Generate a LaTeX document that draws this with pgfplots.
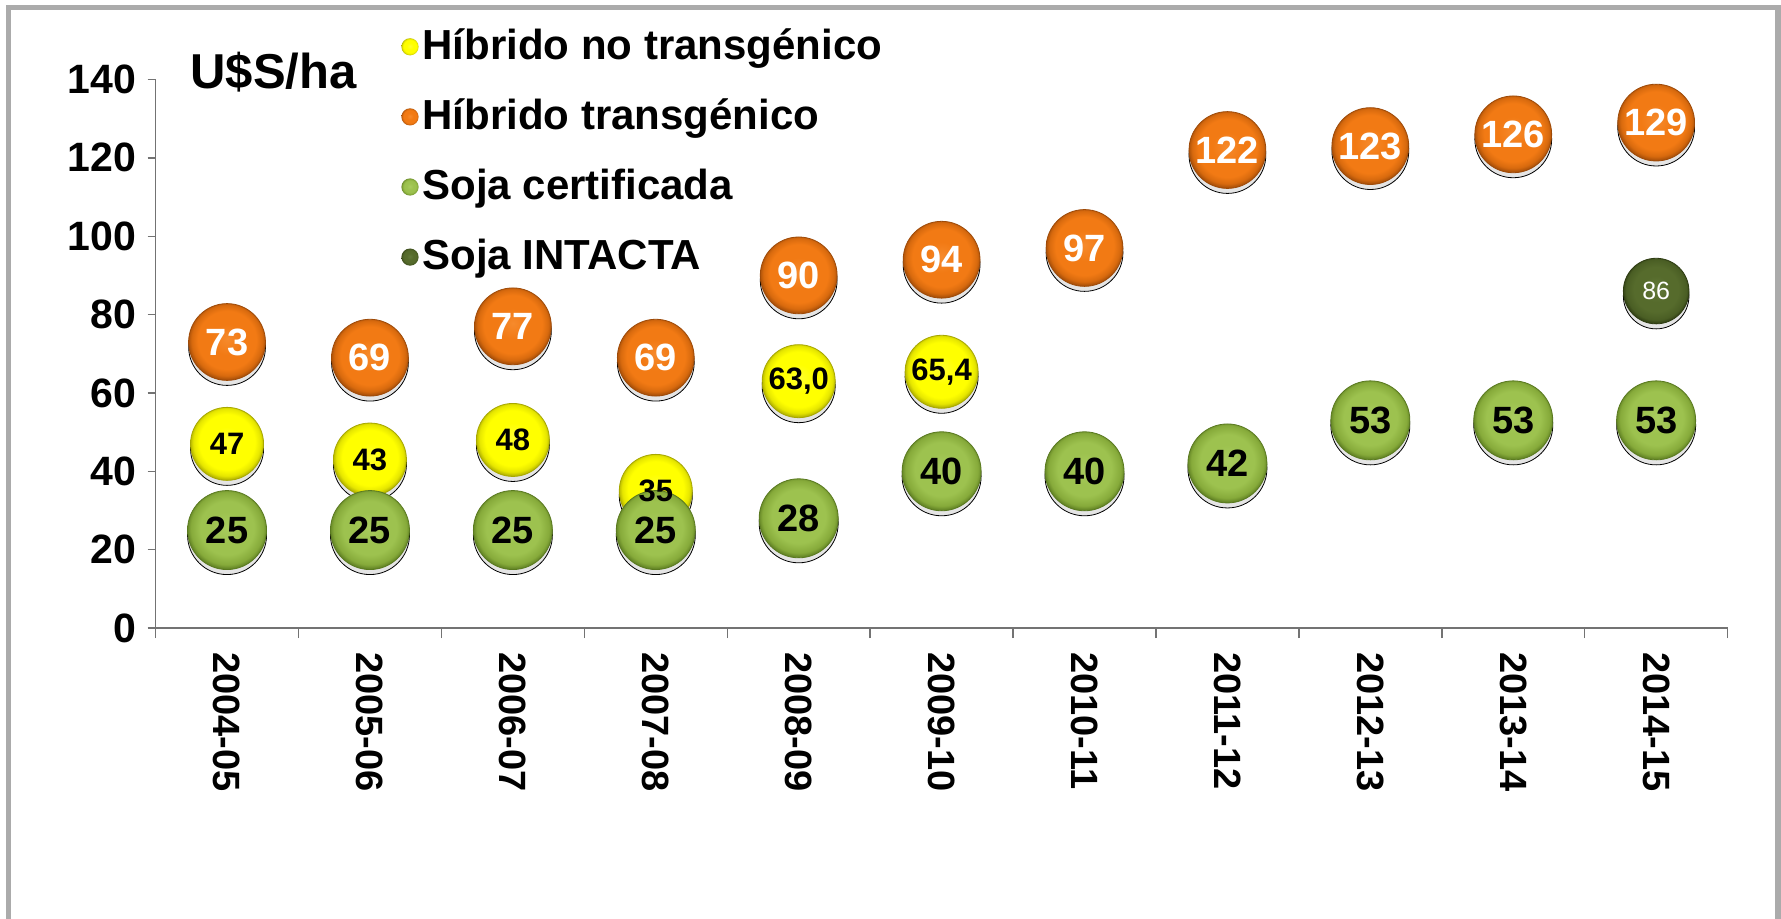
\documentclass[border=0pt]{standalone}
\usepackage{fontspec}
\setmainfont{Liberation Sans}
\usepackage{pgfplots}
\pgfplotsset{compat=1.18}
\usepackage{pgfplotstable}

\definecolor{orL}{HTML}{F68A2C}
\definecolor{orB}{HTML}{F27A14}
\definecolor{orM}{HTML}{D86A0E}
\definecolor{orD}{HTML}{9E4A08}
\definecolor{yeL}{HTML}{FFFF30}
\definecolor{yeB}{HTML}{FFFF00}
\definecolor{yeM}{HTML}{E6E600}
\definecolor{yeD}{HTML}{A8A800}
\definecolor{grL}{HTML}{A9CC5E}
\definecolor{grB}{HTML}{9DC24F}
\definecolor{grM}{HTML}{86AA3A}
\definecolor{grD}{HTML}{5A7A20}
\definecolor{dgL}{HTML}{62793A}
\definecolor{dgB}{HTML}{566B2C}
\definecolor{dgM}{HTML}{4A5E24}
\definecolor{dgD}{HTML}{2E3C12}
\definecolor{framegray}{HTML}{ABABAB}

\pgfdeclareradialshading{shO}{\pgfpoint{0bp}{2bp}}{color(0bp)=(orL); color(10bp)=(orB); color(19bp)=(orB); color(23bp)=(orM); color(26bp)=(orD); color(50bp)=(orD)}
\pgfdeclareradialshading{shY}{\pgfpoint{0bp}{2bp}}{color(0bp)=(yeL); color(10bp)=(yeB); color(19bp)=(yeB); color(23bp)=(yeM); color(26bp)=(yeD); color(50bp)=(yeD)}
\pgfdeclareradialshading{shG}{\pgfpoint{0bp}{2bp}}{color(0bp)=(grL); color(10bp)=(grB); color(17bp)=(grB); color(23bp)=(grM); color(26bp)=(grD); color(50bp)=(grD)}
\pgfdeclareradialshading{shD}{\pgfpoint{0bp}{2bp}}{color(0bp)=(dgL); color(10bp)=(dgB); color(17bp)=(dgB); color(23bp)=(dgM); color(26bp)=(dgD); color(50bp)=(dgD)}

\pgfdeclareplotmark{bubO}{\pgfpathcircle{\pgfpointorigin}{\pgfplotmarksize}\pgfshadepath{shO}{0}\pgfusepathqstroke}
\pgfdeclareplotmark{bubY}{\pgfpathcircle{\pgfpointorigin}{\pgfplotmarksize}\pgfshadepath{shY}{0}\pgfusepathqstroke}
\pgfdeclareplotmark{bubG}{\pgfpathcircle{\pgfpointorigin}{\pgfplotmarksize}\pgfshadepath{shG}{0}\pgfusepathqstroke}
\pgfdeclareplotmark{bubD}{\pgfpathcircle{\pgfpointorigin}{\pgfplotmarksize}\pgfshadepath{shD}{0}\pgfusepathqstroke}

\pgfplotstableread{
x y lab
0 47 47
1 43 43
2 48 48
3 35 35
4 63.0 63,0
5 65.4 65,4
}\yeltab
\pgfplotstableread{
x y lab
0 73 73
1 69 69
2 77 77
3 69 69
4 90 90
5 94 94
6 97 97
7 122 122
8 123 123
9 126 126
10 129 129
}\ortab
\pgfplotstableread{
x y lab
0 25 25
1 25 25
2 25 25
3 25 25
4 28 28
5 40 40
6 40 40
7 42 42
8 53 53
9 53 53
10 53 53
}\grtab
\pgfplotstableread{
x y lab
10 86 86
}\dgtab

\pgfplotsset{
  shadowplot/.style={forget plot, only marks, mark=*, mark size=#1,
    mark options={draw=none, fill=black, fill opacity=0.10, yshift=-2.5pt}},
  labplot/.style 2 args={forget plot, only marks, mark=none, nodes near coords,
    point meta=explicit symbolic,
    every node near coord/.append style={anchor=center, inner sep=0pt, font=#1, text=#2}},
  legball/.style={legend image code/.code={%
    \path[draw=none, fill=none] (0pt,0pt) rectangle (12.25pt,0.1pt);
    \shade[shading=#1, draw=none] (6pt,0.35em) circle (4.3pt);}},
}

\begin{document}
\begin{tikzpicture}
\useasboundingbox (0,0) rectangle (890.5pt,-459.5pt);
\fill[white] (0,0) rectangle (890.5pt,-459.5pt);
\draw[framegray, line width=2.6pt] (4.4pt,-3.75pt) rectangle (889pt,-480pt);
\node[anchor=base west, inner sep=0pt, font=\bfseries\fontsize{24.5}{28}\selectfont] at (95pt,-44.5pt) {U\$S/ha};
\begin{axis}[
  at={(77.8pt,-314pt)}, anchor=south west,
  scale only axis, width=786pt, height=274.25pt,
  clip=false,
  xmin=-0.5, xmax=10.5, ymin=0, ymax=140,
  axis x line*=bottom, axis y line*=left,
  axis line style={-, black!55, line width=0.7pt},
  tick align=outside,
  ytick={0,20,...,140},
  major tick length=4pt,
  minor tick length=5pt,
  tick style={black!55, line width=0.7pt},
  xtick={0,...,10},
  xticklabels={2004-05,2005-06,2006-07,2007-08,2008-09,2009-10,2010-11,2011-12,2012-13,2013-14,2014-15},
  major x tick style={draw=none},
  minor xtick={-0.5,0.5,...,10.5},
  /pgf/number format/assume math mode=true,
  yticklabel style={font=\bfseries\fontsize{20.5}{24}\selectfont, anchor=east, xshift=-2.3pt},
  xticklabel style={font=\bfseries\fontsize{19}{22}\selectfont, rotate=-90, anchor=west, xshift=4.5pt},
  legend style={at={(axis description cs:0.1542,1.0753)}, anchor=north west,
    draw=none, fill=none, inner sep=0pt, outer sep=0pt, row sep=22pt,
    font=\bfseries\fontsize{21}{24}\selectfont,
    nodes={inner sep=0pt, text height=0.8em, text depth=0.25em}},
  legend cell align=left,
]
\addplot[shadowplot=18.25pt] table[x=x,y=y]{\yeltab};
\addplot[only marks, mark=bubY, mark size=18.25pt, mark options={draw=yeD, line width=0.4pt}, legball=shY]
  table[x=x,y=y]{\yeltab};
\addlegendentry{Híbrido no transgénico}
\addplot[shadowplot=19.2pt] table[x=x,y=y]{\ortab};
\addplot[only marks, mark=bubO, mark size=19.2pt, mark options={draw=orD, line width=0.4pt}, legball=shO]
  table[x=x,y=y]{\ortab};
\addlegendentry{Híbrido transgénico}
\addplot[shadowplot=19.75pt] table[x=x,y=y]{\grtab};
\addplot[only marks, mark=bubG, mark size=19.75pt, mark options={draw=grD, line width=0.4pt}, legball=shG]
  table[x=x,y=y]{\grtab};
\addlegendentry{Soja certificada}
\addplot[shadowplot=16.4pt] table[x=x,y=y]{\dgtab};
\addplot[only marks, mark=bubD, mark size=16.4pt, mark options={draw=dgD, line width=0.4pt}, legball=shD]
  table[x=x,y=y]{\dgtab};
\addlegendentry{Soja INTACTA}
% data labels on top
\addplot[labplot={\bfseries\fontsize{15.5}{16}\selectfont}{black}] table[x=x,y=y,meta=lab]{\yeltab};
\addplot[labplot={\bfseries\fontsize{19}{20}\selectfont}{white}] table[x=x,y=y,meta=lab]{\ortab};
\addplot[labplot={\bfseries\fontsize{19}{20}\selectfont}{black}] table[x=x,y=y,meta=lab]{\grtab};
\addplot[labplot={\fontsize{12.5}{13}\selectfont}{white}] table[x=x,y=y,meta=lab]{\dgtab};
\end{axis}
\end{tikzpicture}
\end{document}
